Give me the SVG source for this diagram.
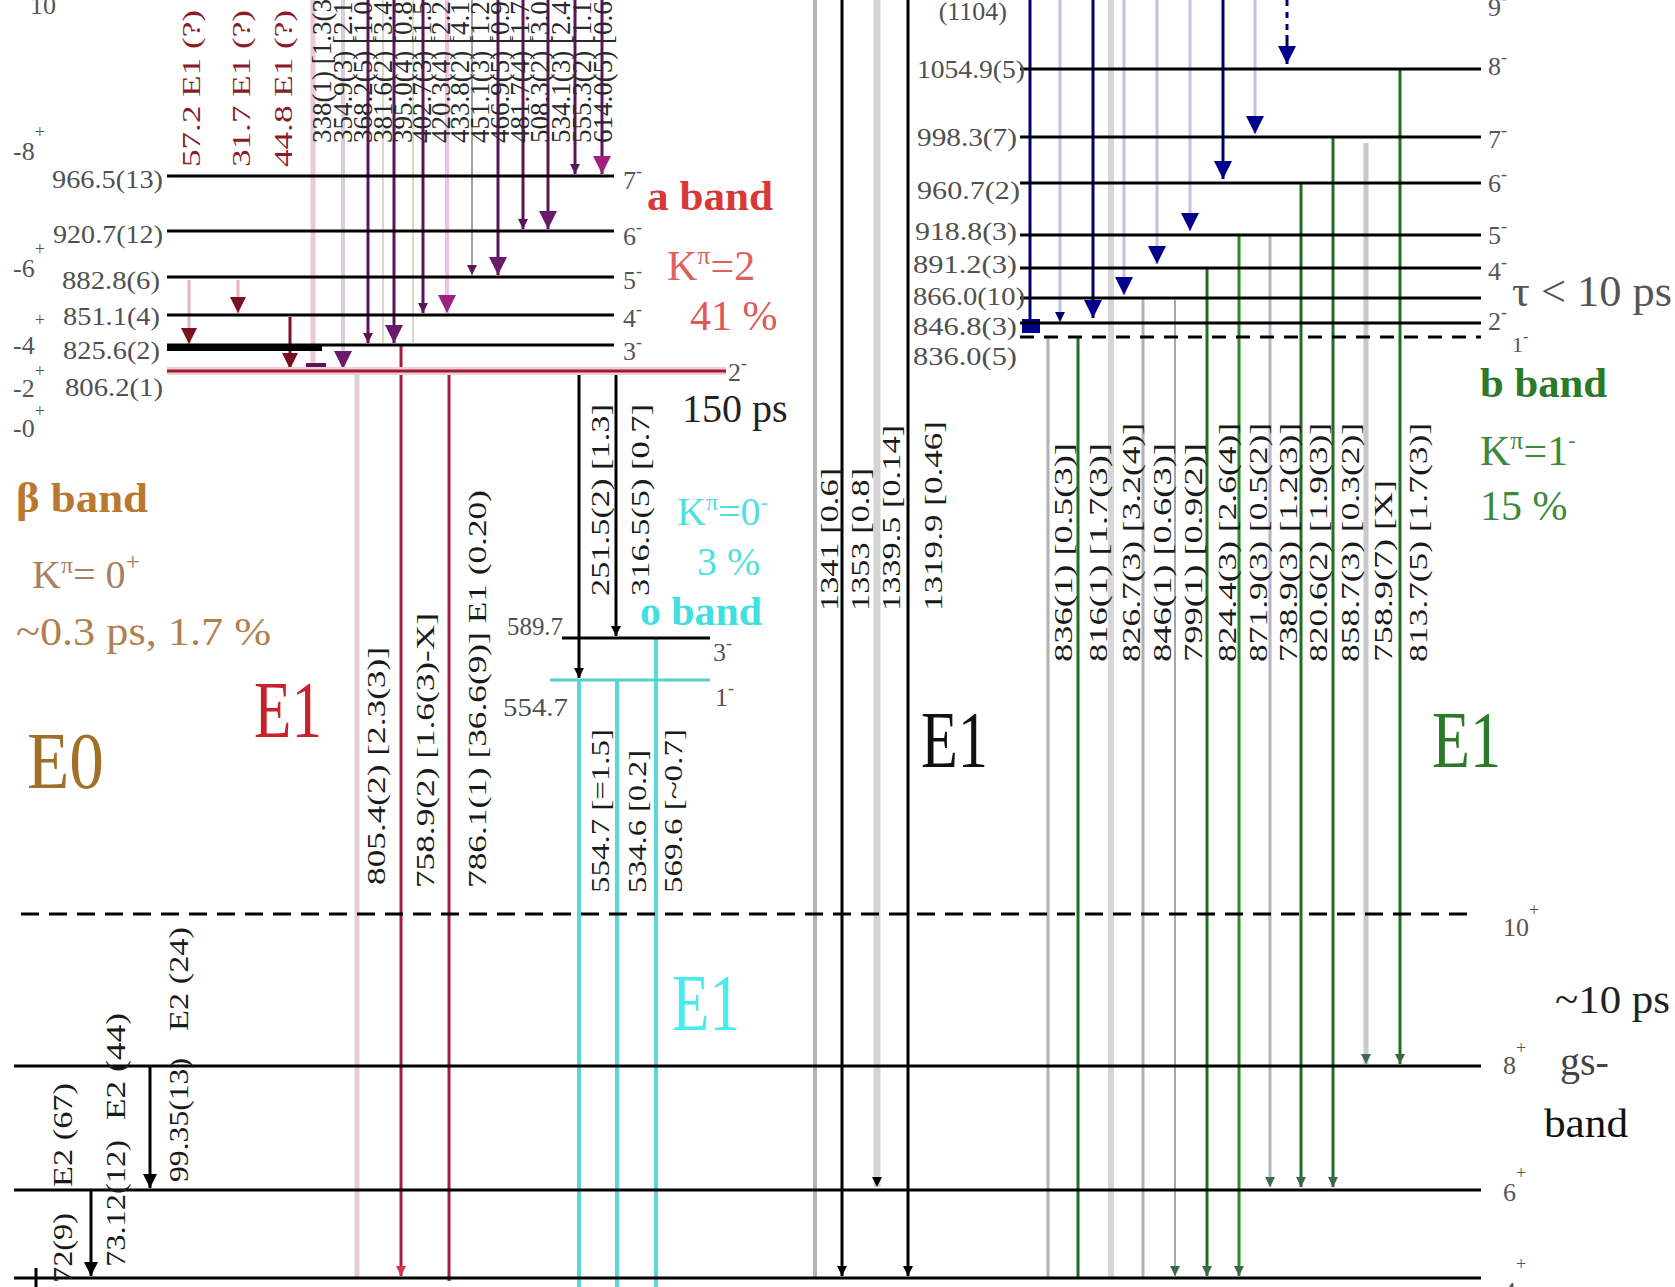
<svg xmlns="http://www.w3.org/2000/svg" width="1675" height="1287" viewBox="0 0 1675 1287">
<style>
text { font-family: "Liberation Serif", "Times New Roman", serif; }
.lv { stroke:#000; stroke-width:3; fill:none; }
.lbl { font-size:26px; fill:#505050; text-anchor:end; }
.sp { font-size:26px; fill:#555; }
.sup { font-size:18px; }
.rl { font-size:26px; fill:#1a1a1a; }
.rp { font-size:27px; fill:#2a2a2a; }
.rr { font-size:26px; fill:#8b1a2a; }
.gs { font-size:28px; fill:#1a1a1a; }
.big { font-size:80px; }
.bt { font-size:42px; }
.pur { stroke:#5c1458; stroke-width:3; fill:none; }
.nav { stroke:#00006e; stroke-width:3; fill:none; }
.lav { stroke:#c4c0e0; stroke-width:3; fill:none; }
.grn { stroke:#236e23; stroke-width:3; fill:none; }
.gry { stroke:#b0b0b0; stroke-width:3; fill:none; }
.lgr { stroke:#d6d6d6; stroke-width:6; fill:none; }
.red { stroke:#a81e3a; stroke-width:3; fill:none; }
.cya { stroke:#58d8d8; stroke-width:4; fill:none; }
.blk { stroke:#000; stroke-width:3; fill:none; }
</style>
<defs>
<marker id="pB" viewBox="0 0 10 10" refX="10" refY="5" markerWidth="18" markerHeight="18" markerUnits="userSpaceOnUse" orient="auto"><path d="M0,0 L10,5 L0,10 z" fill="#6a1a6a"/></marker>
<marker id="pS" viewBox="0 0 10 10" refX="10" refY="5" markerWidth="10" markerHeight="10" markerUnits="userSpaceOnUse" orient="auto"><path d="M0,0 L10,5 L0,10 z" fill="#5c1458"/></marker>
<marker id="pkB" viewBox="0 0 10 10" refX="10" refY="5" markerWidth="18" markerHeight="18" markerUnits="userSpaceOnUse" orient="auto"><path d="M0,0 L10,5 L0,10 z" fill="#a02080"/></marker>
<marker id="drB" viewBox="0 0 10 10" refX="10" refY="5" markerWidth="16" markerHeight="16" markerUnits="userSpaceOnUse" orient="auto"><path d="M0,0 L10,5 L0,10 z" fill="#7a1020"/></marker>
<marker id="nB" viewBox="0 0 10 10" refX="10" refY="5" markerWidth="18" markerHeight="18" markerUnits="userSpaceOnUse" orient="auto"><path d="M0,0 L10,5 L0,10 z" fill="#00008a"/></marker>
<marker id="nS" viewBox="0 0 10 10" refX="10" refY="5" markerWidth="10" markerHeight="12" markerUnits="userSpaceOnUse" orient="auto"><path d="M0,0 L10,5 L0,10 z" fill="#00006e"/></marker>
<marker id="kS" viewBox="0 0 10 10" refX="10" refY="5" markerWidth="10" markerHeight="10" markerUnits="userSpaceOnUse" orient="auto"><path d="M0,0 L10,5 L0,10 z" fill="#000"/></marker>
<marker id="kB" viewBox="0 0 10 10" refX="10" refY="5" markerWidth="16" markerHeight="14" markerUnits="userSpaceOnUse" orient="auto"><path d="M0,0 L10,5 L0,10 z" fill="#000"/></marker>
<marker id="gS" viewBox="0 0 10 10" refX="10" refY="5" markerWidth="10" markerHeight="10" markerUnits="userSpaceOnUse" orient="auto"><path d="M0,0 L10,5 L0,10 z" fill="#3a6a4a"/></marker>
<marker id="rS" viewBox="0 0 10 10" refX="10" refY="5" markerWidth="10" markerHeight="10" markerUnits="userSpaceOnUse" orient="auto"><path d="M0,0 L10,5 L0,10 z" fill="#e03050"/></marker>
</defs>
<rect width="1675" height="1287" fill="#fff"/>

<g id="connectors">
  <line x1="189" y1="280" x2="189" y2="344" stroke="#e8b0c0" stroke-width="3" marker-end="url(#drB)"/>
  <line x1="238" y1="280" x2="238" y2="313" stroke="#e8b0c0" stroke-width="3" marker-end="url(#drB)"/>
  <line x1="290" y1="317" x2="290" y2="369" stroke="#7a1020" stroke-width="3" marker-end="url(#drB)"/>
  <line x1="313" y1="0" x2="313" y2="368" stroke="#ecc8d8" stroke-width="5"/>
  <rect x="306" y="363" width="20" height="5" fill="#5c1458"/>
  <line x1="343" y1="0" x2="343" y2="369" stroke="#d8d0d8" stroke-width="4" marker-end="url(#pB)"/>
  <line x1="383" y1="0" x2="383" y2="343" stroke="#d4dcc8" stroke-width="2"/>
  <line x1="413" y1="0" x2="413" y2="343" stroke="#d4dcc8" stroke-width="2"/>
  <line class="pur" x1="368" y1="0" x2="368" y2="343" marker-end="url(#pS)"/>
  <line class="pur" x1="394" y1="0" x2="394" y2="343" marker-end="url(#pB)"/>
  <line class="pur" x1="423" y1="0" x2="423" y2="313" marker-end="url(#pS)"/>
  <line x1="447" y1="0" x2="447" y2="313" stroke="#f0c0e0" stroke-width="4" marker-end="url(#pkB)"/>
  <line x1="472" y1="0" x2="472" y2="275" stroke="#a0a0a0" stroke-width="2" marker-end="url(#pS)"/>
  <line class="pur" x1="498" y1="0" x2="498" y2="275" marker-end="url(#pB)"/>
  <line class="pur" x1="523" y1="0" x2="523" y2="229" marker-end="url(#pS)"/>
  <line class="pur" x1="548" y1="0" x2="548" y2="229" marker-end="url(#pB)"/>
  <line class="pur" x1="575" y1="0" x2="575" y2="174" marker-end="url(#pS)"/>
  <line class="pur" x1="602" y1="0" x2="602" y2="174" marker-end="url(#pkB)"/>
  <line x1="357" y1="371" x2="357" y2="1278" stroke="#e4ccd4" stroke-width="5"/>
  <line class="red" x1="401" y1="345" x2="401" y2="1276" marker-end="url(#rS)"/>
  <line class="red" x1="449" y1="371" x2="449" y2="1281"/>
  <line class="blk" x1="579" y1="371" x2="579" y2="678" marker-end="url(#kS)"/>
  <line class="blk" x1="616" y1="371" x2="616" y2="636" marker-end="url(#kS)"/>
  <line class="cya" x1="579" y1="680" x2="579" y2="1287"/>
  <line class="cya" x1="617" y1="680" x2="617" y2="1287"/>
  <line class="cya" x1="656" y1="638" x2="656" y2="1287"/>
  <line x1="815" y1="0" x2="815" y2="1278" stroke="#b4b4b4" stroke-width="4"/>
  <line class="blk" x1="842" y1="0" x2="842" y2="1276" marker-end="url(#kS)"/>
  <line x1="877" y1="0" x2="877" y2="1187" stroke="#d4d4d4" stroke-width="7" marker-end="url(#kS)"/>
  <line class="blk" x1="908" y1="0" x2="908" y2="1276" marker-end="url(#kS)"/>
  <line class="nav" x1="1030" y1="0" x2="1030" y2="325"/>
  <rect x="1022" y="319" width="18" height="14" fill="#00008a"/>
  <line class="lav" x1="1060" y1="0" x2="1060" y2="322" marker-end="url(#nS)"/>
  <line class="nav" x1="1093" y1="0" x2="1093" y2="318" marker-end="url(#nB)"/>
  <line class="lav" x1="1124" y1="0" x2="1124" y2="295" marker-end="url(#nB)"/>
  <line class="lav" x1="1157" y1="0" x2="1157" y2="264" marker-end="url(#nB)"/>
  <line class="lav" x1="1190" y1="0" x2="1190" y2="231" marker-end="url(#nB)"/>
  <line class="nav" x1="1223" y1="0" x2="1223" y2="179" marker-end="url(#nB)"/>
  <line class="lav" x1="1255" y1="0" x2="1255" y2="134" marker-end="url(#nB)"/>
  <line class="nav" x1="1287" y1="0" x2="1287" y2="35" stroke-dasharray="6,6"/>
  <line class="nav" x1="1287" y1="35" x2="1287" y2="64" marker-end="url(#nB)"/>
  <line class="gry" x1="1048" y1="338" x2="1048" y2="1278"/>
  <line class="grn" x1="1078" y1="338" x2="1078" y2="1278"/>
  <line class="lgr" x1="1111" y1="0" x2="1111" y2="1278"/>
  <line class="gry" x1="1143" y1="298" x2="1143" y2="1278"/>
  <line x1="1175" y1="300" x2="1175" y2="1276" stroke="#a8a8a8" stroke-width="2" marker-end="url(#gS)"/>
  <line class="grn" x1="1207" y1="268" x2="1207" y2="1276" marker-end="url(#gS)"/>
  <line x1="1239" y1="235" x2="1239" y2="1276" stroke="#2a8a2a" stroke-width="3" marker-end="url(#gS)"/>
  <line x1="1270" y1="235" x2="1270" y2="1187" stroke="#b4b4c4" stroke-width="3" marker-end="url(#gS)"/>
  <line class="grn" x1="1301" y1="183" x2="1301" y2="1187" marker-end="url(#gS)"/>
  <line class="grn" x1="1333" y1="137" x2="1333" y2="1187" marker-end="url(#gS)"/>
  <line x1="1366" y1="143" x2="1366" y2="1064" stroke="#c8c8c8" stroke-width="5" marker-end="url(#gS)"/>
  <line class="grn" x1="1400" y1="69" x2="1400" y2="1064" marker-end="url(#gS)"/>
  <line class="blk" x1="150" y1="1066" x2="150" y2="1188" marker-end="url(#kB)"/>
  <line class="blk" x1="91" y1="1190" x2="91" y2="1276" marker-end="url(#kB)"/>
  <line class="blk" x1="36" y1="1268" x2="36" y2="1287"/>
</g>

<g id="beta-band">
  <text class="sp" x="13" y="160">-8<tspan class="sup" dy="-22">+</tspan></text>
  <text class="sp" x="13" y="277">-6<tspan class="sup" dy="-22">+</tspan></text>
  <text class="sp" x="13" y="354">-4<tspan class="sup" dy="-28">+</tspan></text>
  <text class="sp" x="13" y="397">-2<tspan class="sup" dy="-20">+</tspan></text>
  <text class="sp" x="13" y="437">-0<tspan class="sup" dy="-20">+</tspan></text>
  <text class="sp" x="30" y="14">10</text>
</g>

<g id="lvl-966"><line class="lv" x1="167" y1="176" x2="614" y2="176"/><text class="lbl" x="163" y="188" textLength="111" lengthAdjust="spacingAndGlyphs">966.5(13)</text><text class="sp" x="623" y="189">7<tspan class="sup" dy="-12">-</tspan></text></g>
<g id="lvl-920"><line class="lv" x1="167" y1="231" x2="614" y2="231"/><text class="lbl" x="163" y="243" textLength="110" lengthAdjust="spacingAndGlyphs">920.7(12)</text><text class="sp" x="623" y="245">6<tspan class="sup" dy="-12">-</tspan></text></g>
<g id="lvl-882"><line class="lv" x1="167" y1="277" x2="614" y2="277"/><text class="lbl" x="160" y="289" textLength="98" lengthAdjust="spacingAndGlyphs">882.8(6)</text><text class="sp" x="623" y="289">5<tspan class="sup" dy="-12">-</tspan></text></g>
<g id="lvl-851"><line class="lv" x1="167" y1="315" x2="614" y2="315"/><text class="lbl" x="160" y="325" textLength="97" lengthAdjust="spacingAndGlyphs">851.1(4)</text><text class="sp" x="623" y="327">4<tspan class="sup" dy="-12">-</tspan></text></g>
<g id="lvl-825"><line class="lv" x1="167" y1="345" x2="614" y2="345"/><line x1="167" y1="348" x2="322" y2="348" stroke="#000" stroke-width="6"/><text class="lbl" x="160" y="359" textLength="97" lengthAdjust="spacingAndGlyphs">825.6(2)</text><text class="sp" x="623" y="360">3<tspan class="sup" dy="-12">-</tspan></text></g>
<g id="lvl-806"><line x1="167" y1="371" x2="726" y2="371" stroke="#f4ccd6" stroke-width="8"/><line x1="167" y1="371" x2="726" y2="371" stroke="#9c1c30" stroke-width="3"/><text class="lbl" x="163" y="396" textLength="98" lengthAdjust="spacingAndGlyphs">806.2(1)</text><text class="sp" x="728" y="381">2<tspan class="sup" dy="-12">-</tspan></text></g>

<g id="lvl-589"><line class="lv" x1="562" y1="638" x2="710" y2="638"/><text class="lbl" x="563" y="635" textLength="56" lengthAdjust="spacingAndGlyphs">589.7</text><text class="sp" x="713" y="661">3<tspan class="sup" dy="-12">-</tspan></text></g>
<g id="lvl-554"><line x1="550" y1="680" x2="710" y2="680" stroke="#58d0c0" stroke-width="3"/><text class="lbl" x="568" y="716" textLength="65" lengthAdjust="spacingAndGlyphs">554.7</text><text class="sp" x="715" y="706">1<tspan class="sup" dy="-12">-</tspan></text></g>

<g id="lvl-1104"><text class="lbl" x="1007" y="20">(1104)</text><text class="sp" x="1488" y="16">9<tspan class="sup" dy="-12">-</tspan></text></g>
<g id="lvl-1054"><line class="lv" x1="1020" y1="69" x2="1481" y2="69"/><text class="lbl" x="1025" y="78" textLength="108" lengthAdjust="spacingAndGlyphs">1054.9(5)</text><text class="sp" x="1488" y="75">8<tspan class="sup" dy="-12">-</tspan></text></g>
<g id="lvl-998"><line class="lv" x1="1020" y1="137" x2="1481" y2="137"/><text class="lbl" x="1017" y="146" textLength="100" lengthAdjust="spacingAndGlyphs">998.3(7)</text><text class="sp" x="1488" y="148">7<tspan class="sup" dy="-12">-</tspan></text></g>
<g id="lvl-960"><line class="lv" x1="1020" y1="183" x2="1481" y2="183"/><text class="lbl" x="1020" y="199" textLength="103" lengthAdjust="spacingAndGlyphs">960.7(2)</text><text class="sp" x="1488" y="192">6<tspan class="sup" dy="-12">-</tspan></text></g>
<g id="lvl-918"><line class="lv" x1="1020" y1="235" x2="1481" y2="235"/><text class="lbl" x="1017" y="240" textLength="102" lengthAdjust="spacingAndGlyphs">918.8(3)</text><text class="sp" x="1488" y="244">5<tspan class="sup" dy="-12">-</tspan></text></g>
<g id="lvl-891"><line class="lv" x1="1020" y1="268" x2="1481" y2="268"/><text class="lbl" x="1017" y="273" textLength="104" lengthAdjust="spacingAndGlyphs">891.2(3)</text><text class="sp" x="1488" y="280">4<tspan class="sup" dy="-12">-</tspan></text></g>
<g id="lvl-866"><line class="lv" x1="1020" y1="298" x2="1481" y2="298"/><text class="lbl" x="1025" y="305" textLength="112" lengthAdjust="spacingAndGlyphs">866.0(10)</text><text x="1512" y="306" font-size="44" fill="#555" textLength="160" lengthAdjust="spacingAndGlyphs">τ &lt; 10 ps</text></g>
<g id="lvl-846"><line class="lv" x1="1020" y1="323" x2="1481" y2="323"/><text class="lbl" x="1017" y="335" textLength="104" lengthAdjust="spacingAndGlyphs">846.8(3)</text><text class="sp" x="1488" y="330">2<tspan class="sup" dy="-12">-</tspan></text></g>
<g id="lvl-836"><line class="lv" x1="1020" y1="337" x2="1481" y2="337" stroke-dasharray="14,10" stroke-width="2"/><text class="lbl" x="1017" y="365" textLength="104" lengthAdjust="spacingAndGlyphs">836.0(5)</text><text x="1512" y="352" font-size="22" fill="#555">1<tspan font-size="16" dy="-10">-</tspan></text></g>

<g id="lvl-10p"><line class="lv" x1="21" y1="914" x2="1474" y2="914" stroke-dasharray="18,10"/><text class="sp" x="1503" y="936">10<tspan class="sup" dy="-20">+</tspan></text></g>
<g id="lvl-8p"><line class="lv" x1="14" y1="1066" x2="1481" y2="1066"/><text class="sp" x="1503" y="1074">8<tspan class="sup" dy="-20">+</tspan></text></g>
<g id="lvl-6p"><line class="lv" x1="14" y1="1190" x2="1481" y2="1190"/><text class="sp" x="1503" y="1201">6<tspan class="sup" dy="-22">+</tspan></text></g>
<g id="lvl-4p"><line class="lv" x1="14" y1="1278" x2="1481" y2="1278"/><text class="sp" x="1503" y="1300">4<tspan class="sup" dy="-30">+</tspan></text></g>

<g id="labels-top">
  <text class="rr" transform="translate(200,167) rotate(-90)" textLength="157" lengthAdjust="spacingAndGlyphs">57.2  E1  (?)</text>
  <text class="rr" transform="translate(250,167) rotate(-90)" textLength="157" lengthAdjust="spacingAndGlyphs">31.7  E1  (?)</text>
  <text class="rr" transform="translate(292,167) rotate(-90)" textLength="157" lengthAdjust="spacingAndGlyphs">44.8  E1  (?)</text>
  <text class="rp" transform="translate(331,143) rotate(-90)">338(1)  [1.3(3)]</text>
  <text class="rp" transform="translate(352,143) rotate(-90)">354.9(3) [2.1(4)]</text>
  <text class="rp" transform="translate(372,143) rotate(-90)">368.2(5) [1.0(2)]</text>
  <text class="rp" transform="translate(392,143) rotate(-90)">381.6(2) [3.4(5)]</text>
  <text class="rp" transform="translate(412,143) rotate(-90)">395.0(4) [0.8(2)]</text>
  <text class="rp" transform="translate(431,143) rotate(-90)">402.7(3) [1.5(3)]</text>
  <text class="rp" transform="translate(450,143) rotate(-90)">420.3(4) [2.2(4)]</text>
  <text class="rp" transform="translate(469,143) rotate(-90)">433.8(2) [4.1(6)]</text>
  <text class="rp" transform="translate(489,143) rotate(-90)">451.1(3) [1.2(3)]</text>
  <text class="rp" transform="translate(509,143) rotate(-90)">466.9(5) [0.9(2)]</text>
  <text class="rp" transform="translate(529,143) rotate(-90)">481.7(4) [1.7(3)]</text>
  <text class="rp" transform="translate(549,143) rotate(-90)">508.3(2) [3.0(5)]</text>
  <text class="rp" transform="translate(570,143) rotate(-90)">534.1(3) [2.4(4)]</text>
  <text class="rp" transform="translate(591,143) rotate(-90)">555.3(2) [1.1(3)]</text>
  <text class="rp" transform="translate(612,143) rotate(-90)">614.0(5) [0.6(2)]</text>
</g>
<g id="labels-mid">
  <text class="rl" transform="translate(385,885) rotate(-90)" textLength="238" lengthAdjust="spacingAndGlyphs">805.4(2)  [2.3(3)]</text>
  <text class="rl" transform="translate(434,888) rotate(-90)" textLength="275" lengthAdjust="spacingAndGlyphs">758.9(2)  [1.6(3)-X]</text>
  <text class="rl" transform="translate(486,888) rotate(-90)" textLength="398" lengthAdjust="spacingAndGlyphs">786.1(1)  [36.6(9)]  E1  (0.20)</text>
  <text class="rl" transform="translate(609,596) rotate(-90)" textLength="192" lengthAdjust="spacingAndGlyphs">251.5(2)  [1.3]</text>
  <text class="rl" transform="translate(649,596) rotate(-90)" textLength="192" lengthAdjust="spacingAndGlyphs">316.5(5)  [0.7]</text>
  <text class="rl" transform="translate(609,893) rotate(-90)" textLength="164" lengthAdjust="spacingAndGlyphs">554.7  [=1.5]</text>
  <text class="rl" transform="translate(646,893) rotate(-90)" textLength="143" lengthAdjust="spacingAndGlyphs">534.6  [0.2]</text>
  <text class="rl" transform="translate(682,893) rotate(-90)" textLength="164" lengthAdjust="spacingAndGlyphs">569.6  [~0.7]</text>
  <text class="rl" transform="translate(838,611) rotate(-90)" textLength="143" lengthAdjust="spacingAndGlyphs">1341  [0.6]</text>
  <text class="rl" transform="translate(869,611) rotate(-90)" textLength="143" lengthAdjust="spacingAndGlyphs">1353  [0.8]</text>
  <text class="rl" transform="translate(900,611) rotate(-90)" textLength="186" lengthAdjust="spacingAndGlyphs">1339.5  [0.14]</text>
  <text class="rl" transform="translate(942,611) rotate(-90)" textLength="190" lengthAdjust="spacingAndGlyphs">1319.9  [0.46]</text>
</g>
<g id="labels-right">
  <text class="rl" transform="translate(1072,662) rotate(-90)" textLength="219" lengthAdjust="spacingAndGlyphs">836(1)  [0.5(3)]</text>
  <text class="rl" transform="translate(1107,662) rotate(-90)" textLength="219" lengthAdjust="spacingAndGlyphs">816(1)  [1.7(3)]</text>
  <text class="rl" transform="translate(1140,662) rotate(-90)" textLength="239" lengthAdjust="spacingAndGlyphs">826.7(3)  [3.2(4)]</text>
  <text class="rl" transform="translate(1171,662) rotate(-90)" textLength="219" lengthAdjust="spacingAndGlyphs">846(1)  [0.6(3)]</text>
  <text class="rl" transform="translate(1202,662) rotate(-90)" textLength="219" lengthAdjust="spacingAndGlyphs">799(1)  [0.9(2)]</text>
  <text class="rl" transform="translate(1236,662) rotate(-90)" textLength="239" lengthAdjust="spacingAndGlyphs">824.4(3)  [2.6(4)]</text>
  <text class="rl" transform="translate(1267,662) rotate(-90)" textLength="239" lengthAdjust="spacingAndGlyphs">871.9(3)  [0.5(2)]</text>
  <text class="rl" transform="translate(1297,662) rotate(-90)" textLength="239" lengthAdjust="spacingAndGlyphs">738.9(3)  [1.2(3)]</text>
  <text class="rl" transform="translate(1327,662) rotate(-90)" textLength="239" lengthAdjust="spacingAndGlyphs">820.6(2)  [1.9(3)]</text>
  <text class="rl" transform="translate(1359,662) rotate(-90)" textLength="239" lengthAdjust="spacingAndGlyphs">858.7(3)  [0.3(2)]</text>
  <text class="rl" transform="translate(1392,662) rotate(-90)" textLength="182" lengthAdjust="spacingAndGlyphs">758.9(7)  [X]</text>
  <text class="rl" transform="translate(1427,662) rotate(-90)" textLength="239" lengthAdjust="spacingAndGlyphs">813.7(5)  [1.7(3)]</text>
</g>
<g id="labels-gs">
  <text class="gs" transform="translate(188,1182) rotate(-90)" textLength="124" lengthAdjust="spacingAndGlyphs">99.35(13)</text>
  <text class="gs" transform="translate(188,1031) rotate(-90)" textLength="104" lengthAdjust="spacingAndGlyphs">E2  (24)</text>
  <text class="gs" transform="translate(125,1267) rotate(-90)" textLength="127" lengthAdjust="spacingAndGlyphs">73.12(12)</text>
  <text class="gs" transform="translate(125,1120) rotate(-90)" textLength="107" lengthAdjust="spacingAndGlyphs">E2  (44)</text>
  <text class="gs" transform="translate(72,1187) rotate(-90)" textLength="104" lengthAdjust="spacingAndGlyphs">E2  (67)</text>
  <text class="gs" transform="translate(72,1283) rotate(-90)" textLength="70" lengthAdjust="spacingAndGlyphs">72(9)</text>
</g>

<g id="a-band-text">
  <text class="bt" x="647" y="210" font-weight="bold" fill="#d83838" textLength="126" lengthAdjust="spacingAndGlyphs">a band</text>
  <text class="bt" x="667" y="280" fill="#e06060">K<tspan font-size="26" dy="-16">π</tspan><tspan dy="16">=2</tspan></text>
  <text class="bt" x="690" y="330" fill="#e05858">41 %</text>
  <text x="682" y="422" font-size="40" fill="#222">150 ps</text>
</g>
<g id="o-band-text">
  <text x="677" y="525" font-size="40" fill="#50e0e0">K<tspan font-size="24" dy="-15">π</tspan><tspan dy="15">=0</tspan><tspan font-size="22" dy="-16">-</tspan></text>
  <text x="697" y="575" font-size="40" fill="#50e0e0">3 %</text>
  <text x="640" y="625" font-size="40" font-weight="bold" fill="#40e0e0" textLength="122" lengthAdjust="spacingAndGlyphs">o band</text>
</g>
<g id="beta-band-text">
  <text x="16" y="512" font-size="42" font-weight="bold" fill="#b87830" textLength="132" lengthAdjust="spacingAndGlyphs">β band</text>
  <text x="32" y="588" font-size="40" fill="#a88060">K<tspan font-size="24" dy="-15">π</tspan><tspan dy="15">= 0</tspan><tspan font-size="26" dy="-18">+</tspan></text>
  <text x="16" y="645" font-size="40" fill="#b08050" textLength="255" lengthAdjust="spacingAndGlyphs">~0.3 ps, 1.7 %</text>
</g>
<g id="b-band-text">
  <text x="1480" y="397" font-size="42" font-weight="bold" fill="#2a7a2a" textLength="127" lengthAdjust="spacingAndGlyphs">b band</text>
  <text x="1480" y="465" font-size="42" fill="#3a8a3a">K<tspan font-size="26" dy="-16">π</tspan><tspan dy="16">=1</tspan><tspan font-size="22" dy="-18">-</tspan></text>
  <text x="1480" y="520" font-size="42" fill="#3a8a3a">15 %</text>
</g>
<g id="gs-band-text">
  <text x="1555" y="1013" font-size="40" fill="#222" textLength="115" lengthAdjust="spacingAndGlyphs">~10 ps</text>
  <text x="1560" y="1075" font-size="40" fill="#444">gs-</text>
  <text x="1544" y="1137" font-size="40" fill="#111" textLength="84" lengthAdjust="spacingAndGlyphs">band</text>
</g>
<g id="multipolarity">
  <text class="big" x="27" y="788" fill="#a07028" textLength="77" lengthAdjust="spacingAndGlyphs">E0</text>
  <text class="big" x="254" y="737" fill="#c8202c" textLength="68" lengthAdjust="spacingAndGlyphs">E1</text>
  <text class="big" x="921" y="767" fill="#111" textLength="67" lengthAdjust="spacingAndGlyphs">E1</text>
  <text class="big" x="1432" y="767" fill="#2a7a2a" textLength="69" lengthAdjust="spacingAndGlyphs">E1</text>
  <text class="big" x="672" y="1030" fill="#48ecec" textLength="68" lengthAdjust="spacingAndGlyphs">E1</text>
</g>
</svg>
